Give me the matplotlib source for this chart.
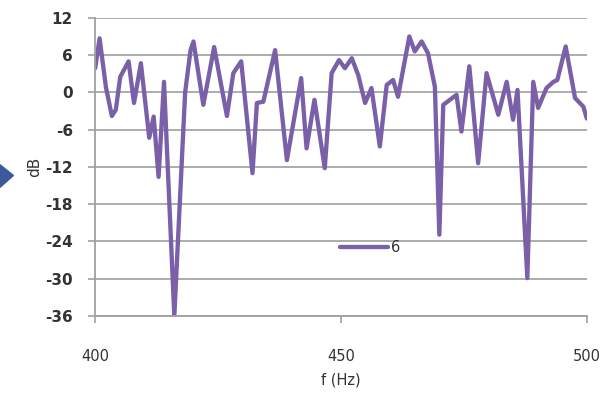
import matplotlib.pyplot as plt
from matplotlib.patches import Polygon

plt.rcParams["axes.unicode_minus"] = False

# frequency response trace
freq = [400.0, 400.9, 402.2, 403.4, 404.2, 405.1, 406.8, 407.9, 409.3, 411.0,
        411.9, 412.9, 414.0, 416.1, 418.3, 419.4, 420.0, 422.0, 424.2, 426.8,
        428.1, 429.7, 432.0, 432.9, 434.2, 436.6, 439.0, 441.9, 443.0, 444.6,
        446.7, 448.1, 449.6, 450.8, 452.2, 453.5, 454.9, 456.2, 457.9, 459.3,
        460.6, 461.6, 463.9, 465.0, 466.4, 467.7, 469.1, 470.0, 470.8, 473.5,
        474.5, 476.1, 477.9, 479.6, 482.0, 483.7, 485.0, 485.9, 487.9, 489.1,
        490.1, 491.8, 493.2, 494.0, 495.7, 497.6, 499.3, 500.0]
level = [3.9, 8.7, 0.8, -3.8, -2.8, 2.5, 5.0, -1.7, 4.7, -7.3,
         -3.9, -13.6, 1.7, -36.0, 0.0, 6.8, 8.2, -2.0, 7.3, -3.8,
         3.1, 5.0, -13.0, -1.7, -1.5, 6.8, -10.9, 2.3, -9.0, -1.2,
         -12.2, 3.1, 5.2, 3.9, 5.5, 2.8, -1.7, 0.7, -8.7, 1.2,
         2.0, -0.7, 9.0, 6.6, 8.2, 6.3, 0.9, -22.9, -2.0, -0.4,
         -6.3, 4.2, -11.4, 3.1, -3.6, 1.7, -4.4, 0.4, -29.9, 1.7,
         -2.5, 0.7, 1.7, 2.0, 7.4, -0.9, -2.3, -4.2]

xticks = [400, 450, 500]
yticks = [-36, -30, -24, -18, -12, -6, 0, 6, 12]

fig = plt.figure(figsize=(6.10, 3.97), dpi=100)
ax = fig.add_axes([0.156, 0.204, 0.806, 0.751])

ax.plot(freq, level, color="#7a5fa9", lw=3.1, solid_joinstyle="round",
        solid_capstyle="round", label="6")

ax.set_xlim(400, 500)
ax.set_ylim(-36, 12)
ax.set_xticks(xticks)
ax.set_yticks(yticks)
ax.grid(axis="y", color="#a6a6a6", lw=1.3)
ax.set_axisbelow(True)

for s in ["top", "right"]:
    ax.spines[s].set_visible(False)
for s in ["left", "bottom"]:
    ax.spines[s].set_color("#a0a0a0")
    ax.spines[s].set_linewidth(1.3)

ax.tick_params(axis="y", colors="#a0a0a0", length=5, width=1.2, labelcolor="#333333",
               labelsize=11, pad=11)
ax.tick_params(axis="x", colors="#a0a0a0", length=5, width=1.2, labelcolor="#333333",
               labelsize=10.5, pad=19)
for lbl in ax.get_yticklabels():
    lbl.set_fontweight("bold")

ax.set_xlabel("f (Hz)", fontsize=10.5, color="#333333", labelpad=6)
ax.set_ylabel("dB", fontsize=11, color="#333333", labelpad=2)

ax.legend(loc="center", bbox_to_anchor=(0.56, 0.23), frameon=False, fontsize=10.5,
          handlelength=3.3, handletextpad=0.2, labelcolor="#333333")

# blue arrow marker at the left edge
fig.patches.append(Polygon([[0.0, 0.585], [0.022, 0.558], [0.0, 0.528]], closed=True,
                           transform=fig.transFigure, color="#3c5a99"))

fig.savefig("out.png", dpi=100)
